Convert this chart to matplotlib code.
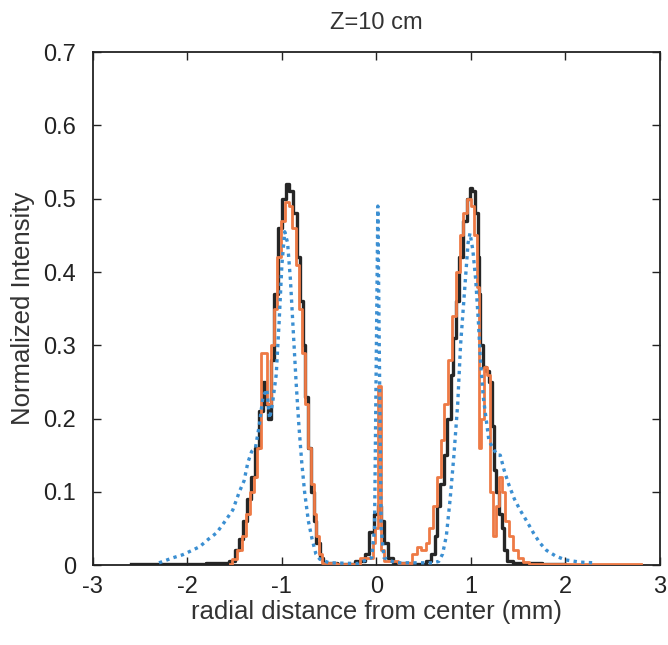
import numpy as np
import matplotlib
matplotlib.use('Agg')
import matplotlib.pyplot as plt

plt.rcParams['font.family'] = ['Liberation Sans', 'DejaVu Sans']
plt.rcParams['axes.unicode_minus'] = False

# black (solid, stepped)
black_x = [-2.6, -2.0, -1.6, -1.52, -1.47, -1.43, -1.39, -1.35, -1.30, -1.26, -1.22, -1.19,
           -1.16, -1.13, -1.10, -1.06, -1.02, -0.98, -0.94, -0.90, -0.86, -0.82, -0.79, -0.77,
           -0.74, -0.71, -0.68, -0.65, -0.62, -0.58, -0.54, -0.3, -0.15, -0.10, -0.05, 0.0,
           0.03, 0.07, 0.10, 0.15, 0.2, 0.5, 0.55, 0.60, 0.63, 0.66, 0.69, 0.73, 0.77, 0.80,
           0.83, 0.85, 0.89, 0.94, 0.97, 1.0, 1.03, 1.06, 1.08, 1.09, 1.11, 1.14, 1.18, 1.21,
           1.23, 1.25, 1.28, 1.31, 1.34, 1.37, 1.40, 1.5, 2.0]
black_y = [0.002, 0.002, 0.003, 0.005, 0.02, 0.035, 0.06, 0.09, 0.12, 0.16, 0.21, 0.25,
           0.22, 0.20, 0.28, 0.37, 0.46, 0.50, 0.52, 0.51, 0.48, 0.42, 0.36, 0.30,
           0.23, 0.16, 0.10, 0.06, 0.03, 0.01, 0.003, 0.002, 0.005, 0.015, 0.045, 0.07,
           0.08, 0.06, 0.03, 0.01, 0.003, 0.002, 0.005, 0.015, 0.04, 0.08, 0.11, 0.15, 0.20, 0.26,
           0.31, 0.36, 0.42, 0.47, 0.50, 0.515, 0.51, 0.48, 0.42, 0.37, 0.30, 0.27, 0.265, 0.25,
           0.19, 0.13, 0.10, 0.07, 0.05, 0.02, 0.005, 0.003, 0.002]

# orange (solid, stepped)
orange_x = [-1.55, -1.50, -1.45, -1.40, -1.36, -1.32, -1.28, -1.24, -1.20, -1.17, -1.14,
            -1.10, -1.07, -1.03, -0.99, -0.95, -0.91, -0.87, -0.83, -0.80, -0.77, -0.74,
            -0.71, -0.68, -0.65, -0.62, -0.59, -0.56, -0.3, -0.05, -0.02, 0.0, 0.03, 0.06,
            0.10, 0.35, 0.40, 0.45, 0.50, 0.54, 0.58, 0.62, 0.66, 0.70, 0.74, 0.78, 0.82,
            0.86, 0.90, 0.94, 0.98, 1.02, 1.05, 1.08, 1.10, 1.12, 1.15, 1.19, 1.22, 1.25,
            1.28, 1.31, 1.35, 1.38, 1.42, 1.47, 1.52, 1.58, 1.65, 2.8]
orange_y = [0.002, 0.008, 0.02, 0.04, 0.07, 0.10, 0.12, 0.16, 0.29, 0.29, 0.22,
            0.30, 0.35, 0.42, 0.47, 0.495, 0.49, 0.46, 0.41, 0.35, 0.29, 0.22,
            0.16, 0.11, 0.07, 0.04, 0.015, 0.003, 0.002, 0.01, 0.03, 0.05, 0.245, 0.02,
            0.005, 0.003, 0.015, 0.025, 0.02, 0.03, 0.05, 0.08, 0.12, 0.17, 0.22, 0.28, 0.34,
            0.40, 0.45, 0.48, 0.50, 0.49, 0.45, 0.38, 0.16, 0.20, 0.27, 0.26, 0.10, 0.04,
            0.08, 0.12, 0.10, 0.06, 0.04, 0.02, 0.01, 0.004, 0.002, 0.002]

# blue (dotted)
blue_x = [-2.3, -2.15, -2.05, -1.95, -1.87, -1.78, -1.69, -1.60, -1.52, -1.45, -1.40, -1.36,
          -1.32, -1.28, -1.24, -1.20, -1.16, -1.13, -1.10, -1.06, -1.03, -1.00, -0.97, -0.94,
          -0.91, -0.88, -0.85, -0.82, -0.79, -0.76, -0.72, -0.68, -0.64, -0.60, -0.5, -0.2,
          -0.05, -0.02, 0.0, 0.015, 0.03, 0.05, 0.08, 0.2, 0.6, 0.66, 0.70, 0.74, 0.78, 0.82,
          0.86, 0.89, 0.93, 0.97, 0.99, 1.02, 1.05, 1.08, 1.10, 1.13, 1.16, 1.19, 1.23, 1.28,
          1.31, 1.35, 1.40, 1.46, 1.52, 1.59, 1.66, 1.73, 1.80, 1.90, 2.0, 2.15, 2.3]
blue_y = [0.003, 0.01, 0.014, 0.02, 0.025, 0.035, 0.044, 0.06, 0.075, 0.10, 0.115, 0.14,
          0.155, 0.16, 0.19, 0.23, 0.24, 0.20, 0.22, 0.26, 0.33, 0.41, 0.455, 0.44,
          0.39, 0.32, 0.25, 0.19, 0.14, 0.10, 0.06, 0.035, 0.015, 0.008, 0.003, 0.002,
          0.01, 0.05, 0.30, 0.49, 0.30, 0.05, 0.01, 0.003, 0.003, 0.005, 0.015, 0.04, 0.09, 0.15,
          0.22, 0.30, 0.37, 0.44, 0.453, 0.43, 0.39, 0.33, 0.28, 0.23, 0.20, 0.17, 0.16, 0.15,
          0.15, 0.13, 0.11, 0.09, 0.075, 0.06, 0.044, 0.03, 0.02, 0.012, 0.007, 0.004, 0.003]

x_ticks = [-3, -2, -1, 0, 1, 2, 3]
y_ticks = [0, 0.1, 0.2, 0.3, 0.4, 0.5, 0.6, 0.7]
y_tick_labels = ['0', '0.1', '0.2', '0.3', '0.4', '0.5', '0.6', '0.7']

fig = plt.figure(figsize=(6.68, 6.45), dpi=100)
ax = fig.add_axes([0.139, 0.124, 0.849, 0.795])

ax.plot(black_x, black_y, color='#262626', lw=2.4, drawstyle='steps-mid', zorder=2)
ax.plot(orange_x, orange_y, color='#ee7a45', lw=2.0, drawstyle='steps-mid', zorder=3)
ax.plot(blue_x, blue_y, color='#3b8fd2', lw=2.4, linestyle=(0, (1, 1.3)), zorder=4)

ax.set_xlim(-3, 3)
ax.set_ylim(0, 0.7)
ax.set_xticks(x_ticks)
ax.set_xticklabels([str(t) for t in x_ticks])
ax.set_yticks(y_ticks)
ax.set_yticklabels(y_tick_labels)
ax.tick_params(direction='in', top=True, right=True, length=6, width=1, labelsize=17,
               colors='#222222')
ax.tick_params(axis='x', pad=8)
ax.tick_params(axis='y', pad=12)
for s in ax.spines.values():
    s.set_linewidth(1.3)
    s.set_color('#222222')

ax.set_xlabel('radial distance from center (mm)', fontsize=18.5, labelpad=1, color='#333333')
ax.set_ylabel('Normalized Intensity', fontsize=18.5, labelpad=6, color='#333333')
ax.set_title('Z=10 cm', fontsize=17, pad=17, color='#333333')

fig.savefig('out.png', dpi=100)
